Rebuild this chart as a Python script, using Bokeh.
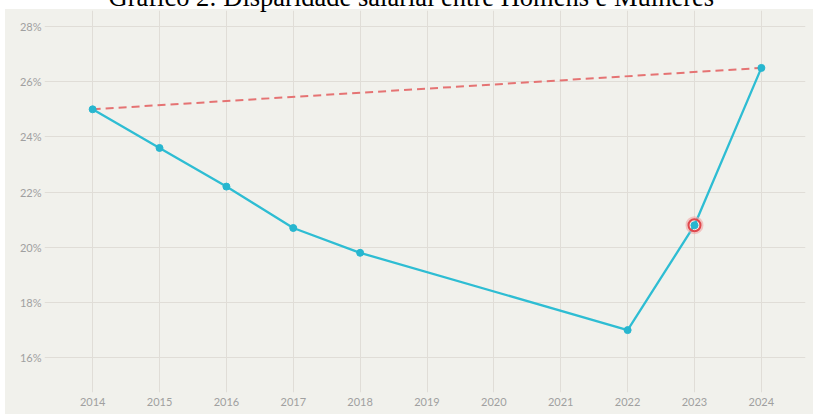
from bokeh.plotting import figure
from bokeh.models import FixedTicker, PrintfTickFormatter, Title
from bokeh.embed import file_html
from bokeh.resources import INLINE

# Data
years = [2014, 2015, 2016, 2017, 2018, 2022, 2023, 2024]
gap_pct = [25.0, 23.6, 22.2, 20.7, 19.8, 17.0, 20.8, 26.5]
trend_years = [2014, 2024]
trend_pct = [25.0, 26.5]
highlight_year = [2023]
highlight_pct = [20.8]
x_ticks = list(range(2014, 2025))
y_ticks = [16, 18, 20, 22, 24, 26, 28]
title_text = "Gráfico 2: Disparidade salarial entre Homens e Mulheres"

T = 20
BAND = T + 9
BG = "#f1f1ec"

p = figure(width=808, height=414 + T, output_backend="svg", toolbar_location=None,
           x_range=(2013.28, 2024.66), y_range=(14.74, 28.58),
           min_border_left=39, min_border_right=8, min_border_bottom=22, min_border_top=0)
p.styles = {"margin-top": f"-{T}px", "margin-left": "5px",
            "background": f"linear-gradient(to bottom, #ffffff 0px, #ffffff {BAND}px, {BG} {BAND}px, {BG} 100%)"}

p.title = Title(text=title_text, text_font="Liberation Serif", text_font_size="26.5px",
                text_font_style="normal", align="left", text_color="black",
                standoff=-2, offset=64)

p.background_fill_color = BG
p.border_fill_alpha = 0
p.outline_line_color = None

p.xgrid.ticker = FixedTicker(ticks=x_ticks)
p.ygrid.ticker = FixedTicker(ticks=y_ticks)
for g in (p.xgrid, p.ygrid):
    g.grid_line_color = "#e0ddd7"
    g.grid_line_width = 1

p.xaxis.ticker = FixedTicker(ticks=x_ticks)
p.yaxis.ticker = FixedTicker(ticks=y_ticks)
p.yaxis.formatter = PrintfTickFormatter(format="%d%%")
for ax in (p.xaxis, p.yaxis):
    ax.axis_line_color = None
    ax.major_tick_line_color = None
    ax.minor_tick_line_color = None
    ax.major_tick_out = 0
    ax.major_tick_in = 0
    ax.major_label_text_font = "Lato"
    ax.major_label_text_font_size = "11px"
    ax.major_label_text_color = "#a0a0a0"
p.xaxis.major_label_standoff = 5
p.yaxis.major_label_standoff = 3

p.line(trend_years, trend_pct, line_color="#e57373", line_width=2, line_dash="8 5")
p.line(years, gap_pct, line_color="#2ebdd3", line_width=2.3)
p.scatter(years, gap_pct, size=7, fill_color="#27b6cf", line_color="#27b6cf")
p.scatter(highlight_year, highlight_pct, size=14, fill_color=None,
          line_color="#f2a5a5", line_width=4, line_alpha=0.6)
p.scatter(highlight_year, highlight_pct, size=12, fill_color=None,
          line_color="#e0474c", line_width=2)

open("out.html", "w").write(file_html(p, INLINE))
